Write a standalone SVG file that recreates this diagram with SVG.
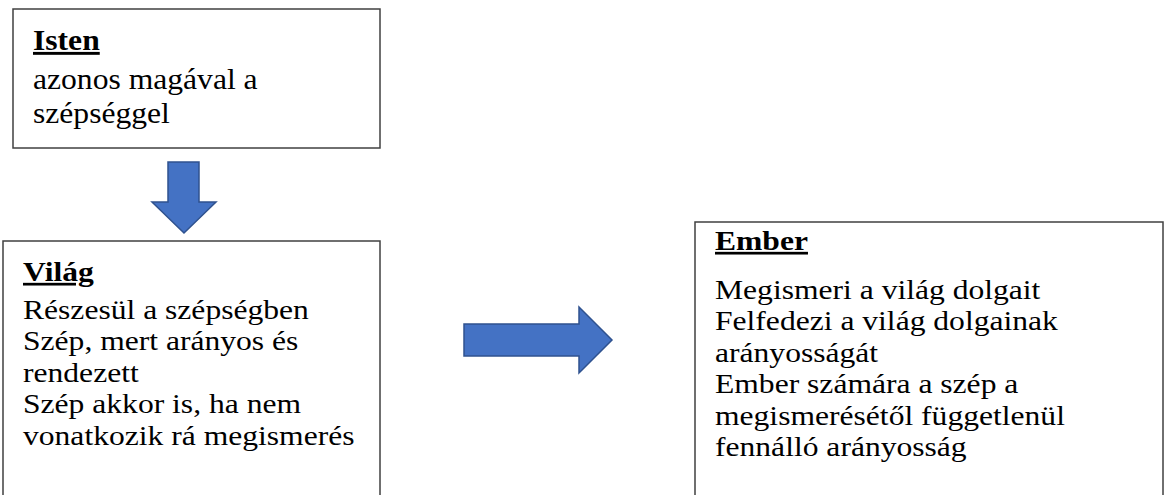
<svg xmlns="http://www.w3.org/2000/svg" width="1174" height="495" viewBox="0 0 1174 495">
<style>
.box{fill:#fff;stroke:#404040;stroke-width:1.5}
.arrow{fill:#4472C4;stroke:#2F528F;stroke-width:1.5;stroke-linejoin:miter}
.t{font-family:"Liberation Serif","Times New Roman",serif;font-size:27px;fill:#000}
.ti{font-size:29px}
.h{font-weight:bold;text-decoration:underline}
</style>
<rect width="1174" height="495" fill="#fff"/>
<g id="isten">
<rect class="box" x="13" y="9" width="367" height="139"/>
<g transform="translate(33,0) scale(1.09,1)">
<text class="t ti h" x="0" y="50">Isten</text>
<text class="t ti" x="0" y="89">azonos magával a</text>
<text class="t ti" x="0" y="123">szépséggel</text>
</g>
</g>
<g id="vilag">
<rect class="box" x="3" y="241" width="377" height="270"/>
<g transform="translate(23,0) scale(1.17,1)">
<text class="t h" x="0" y="281">Világ</text>
<text class="t" x="0" y="319">Részesül a szépségben</text>
<text class="t" x="0" y="350.5">Szép, mert arányos és</text>
<text class="t" x="0" y="382">rendezett</text>
<text class="t" x="0" y="413.5">Szép akkor is, ha nem</text>
<text class="t" x="0" y="445">vonatkozik rá megismerés</text>
</g>
</g>
<g id="ember">
<rect class="box" x="695" y="222" width="468" height="290"/>
<g transform="translate(715,0) scale(1.17,1)">
<text class="t h" x="0" y="250">Ember</text>
<text class="t" x="0" y="299">Megismeri a világ dolgait</text>
<text class="t" x="0" y="330.5">Felfedezi a világ dolgainak</text>
<text class="t" x="0" y="362">arányosságát</text>
<text class="t" x="0" y="393.5">Ember számára a szép a</text>
<text class="t" x="0" y="425">megismerésétől függetlenül</text>
<text class="t" x="0" y="456.5">fennálló arányosság</text>
</g>
</g>
<g id="connectors">
<path class="arrow" d="M168,162 H199 V202 H216 L184,233 L152,202 H168 Z"/>
<path class="arrow" d="M464,324 H579 V307 L612,340 L579,373 V356 H464 Z"/>
</g>
</svg>
